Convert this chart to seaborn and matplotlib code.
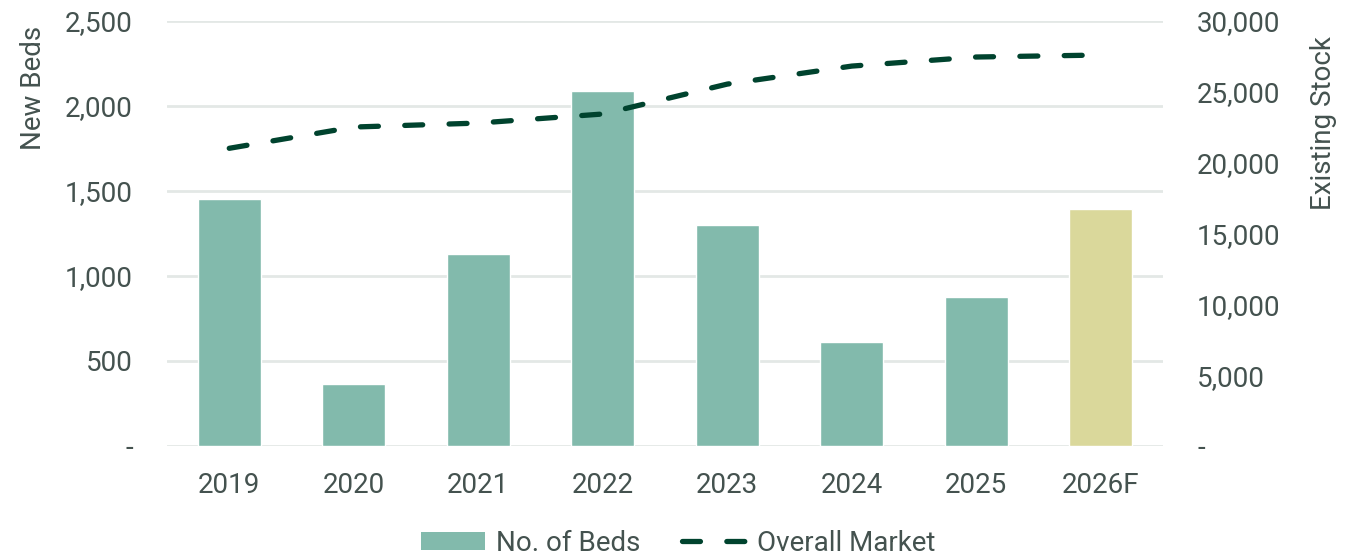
import matplotlib
matplotlib.use("Agg")
import matplotlib.pyplot as plt
import matplotlib.ticker as mticker
from matplotlib.patches import Patch
from matplotlib.lines import Line2D
import numpy as np
import pandas as pd
import seaborn as sns

# Data
years = ["2019", "2020", "2021", "2022", "2023", "2024", "2025", "2026F"]
new_beds = [1453, 365, 1129, 2088, 1300, 612, 876, 1394]
existing_stock = [21000, 22500, 22780, 23420, 25530, 26800, 27440, 27580]
bar_kind = ["actual", "actual", "actual", "actual", "actual", "actual", "actual", "forecast"]

BAR_COLOR = "#82BAAC"
FORECAST_COLOR = "#DAD89B"
LINE_COLOR = "#00432E"
TEXT_COLOR = "#44524F"
GRID_COLOR = "#E3E8E6"
FS = 20

sns.set_theme(style="white")
plt.rcParams["font.family"] = ["Roboto", "DejaVu Sans"]
plt.rcParams["text.color"] = TEXT_COLOR
plt.rcParams["axes.labelcolor"] = TEXT_COLOR
plt.rcParams["xtick.color"] = TEXT_COLOR
plt.rcParams["ytick.color"] = TEXT_COLOR

df = pd.DataFrame({"year": years, "beds": new_beds, "stock": existing_stock, "kind": bar_kind})

fig = plt.figure(figsize=(13.6, 5.57), dpi=100)
ax = fig.add_axes([0.1228, 0.1993, 0.7324, 0.7635])

sns.barplot(data=df, x="year", y="beds", hue="kind",
            palette={"actual": BAR_COLOR, "forecast": FORECAST_COLOR},
            width=0.506, dodge=False, legend=False, saturation=1, ax=ax)

ax.set_ylim(0, 2500)
ax.set_yticks(np.arange(0, 2501, 500))
ax.yaxis.grid(True, color=GRID_COLOR, linewidth=2)
ax.set_axisbelow(True)
ax.set_xlim(-0.5, len(years) - 0.5)

ax2 = ax.twinx()
sns.lineplot(x=np.arange(len(years)), y=df["stock"], ax=ax2, color=LINE_COLOR,
             linewidth=3.8, legend=False)
line = ax2.lines[0]
line.set_dashes((3.4, 5.0))
line.set_dash_capstyle("round")
ax2.set_ylim(0, 30000)
ax2.set_yticks(np.arange(0, 30001, 5000))
ax2.set_xlim(-0.5, len(years) - 0.5)


def fmt(v, _):
    return "-" if v == 0 else f"{v:,.0f}"


ax.yaxis.set_major_formatter(mticker.FuncFormatter(fmt))
ax2.yaxis.set_major_formatter(mticker.FuncFormatter(fmt))

for a in (ax, ax2):
    for s in a.spines.values():
        s.set_visible(False)
    a.tick_params(axis="both", length=0, labelsize=FS)
ax.tick_params(axis="y", pad=24.5)
ax2.tick_params(axis="y", pad=24.5)
ax.tick_params(axis="x", pad=19)

ax.set_xlabel("")
ax.set_ylabel("New Beds", fontsize=FS)
ax2.set_ylabel("Existing Stock", fontsize=FS)
# axis titles sit towards the top of each side
ax.yaxis.set_label_coords(-0.1205, 0.842)
ax2.yaxis.set_label_coords(1.1476, 0.76)

handles = [
    Patch(facecolor=BAR_COLOR, edgecolor="none"),
    Line2D([0], [0], color=LINE_COLOR, linewidth=3.8, dashes=(3.4, 5.0),
           dash_capstyle="round"),
]
fig.legend(handles, ["No. of Beds", "Overall Market"], loc="center",
           bbox_to_anchor=(0.499, 0.025), ncol=2, frameon=False, fontsize=FS,
           handlelength=2.3, handleheight=0.6, handletextpad=0.4, columnspacing=1.5)

fig.savefig("out.png", dpi=100)
